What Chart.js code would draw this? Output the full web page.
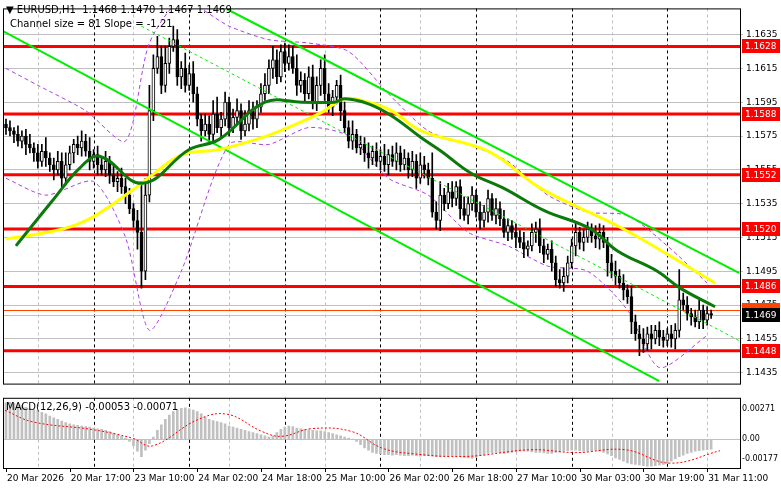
<!DOCTYPE html>
<html>
<head>
<meta charset="utf-8">
<script src="https://cdn.jsdelivr.net/npm/chart.js@4.4.1/dist/chart.umd.min.js"></script>
<style>
  body { margin: 0; background: #fff; width: 781px; height: 489px; overflow: hidden; position: relative; }
  canvas { position: absolute; left: 0; }
  #priceChart { top: 0; }
  #macdChart { top: 392px; }
</style>
</head>
<body>
<canvas id="priceChart" width="781" height="392"></canvas>
<canvas id="macdChart" width="781" height="97"></canvas>
<script>
// prices are stored in pips above BASE (1.1400)
var BASE = 1.14;

// hourly closes, 20 Mar 01:00 .. 31 Mar 13:00
var closes = [180,178,176,172,175,170,168, 165,160,166,162,158,155, 160,150,158,165,170,
  168,172,166,160,164,158,155, 160,152,148,150,145,140,132, 125,118,95, 140,190,215,222,205,218,
  228,232,210,215,205,212, 200,185,178,182,176,188,180, 185,195,180,186,190,178,182,
  190,185,192,200,205,215, 220,210,225,218,222,215,205, 208,200,210,195,205,215,200,192,
  198,205,190,180,172,176,168, 170,165,162,166,160,163,158,164, 160,165,158,162,155,160,150,158,
  155,150,130,125,140,135, 142,138,145,132,128,135,140,130, 125,130,138,128,132,126,118,122,
  118,115,112,108,110,118,120, 110,105,108,100,90,88,92, 100,110,118,112,115,120,116,
  114,118,112,100,95,92,88, 84,80,65,58,55,52, 58,55,60,56,54,58,55,60,
  78,75,70,68,65,72,66,70,69];
var wickUp = [3,4,2,5,3,4,6,3,5,4, 8,3,4,6,5,7,4,3,5,6, 4,8,3,5,4,6,3,5,4,6,
  5,4,3,6,30,10,15,8,12,6, 10,5,8,6,4,9,5,7,4,3, 6,5,8,10,4,6,3,5,7,4,
  8,6,5,4,6,7,5,8,6,4, 5,7,6,8,5,4,6,7,5,5, 8,6,4,3,6,5,4,8,3,5,
  4,6,3,5,4,7,3,5,6,4, 5,3,6,4,7,5,4,15,6,8, 4,5,6,3,4,7,4,5,3,6,
  4,5,3,6,4,5,4,3,5,4, 6,3,5,4,6,4,3,5,4,6, 5,4,4,6,3,5,4,3,6,5,
  4,3,5,6,4,5,3,6,4,5, 6,4,5,3,5,4,3,5,4,18, 4,5,3,4,6,3,4,2];
var wickDn = [4,3,5,3,4,6,3,5,4,3, 5,4,6,3,5,4,3,6,4,5, 3,5,4,6,3,4,5,3,6,4,
  5,3,4,10,10,5,4,6,3,5, 4,6,3,5,7,4,3,5,4,6, 3,5,4,3,6,4,5,3,4,5,
  3,4,6,5,3,4,5,6,4,3, 5,4,3,6,4,5,3,4,5,6, 4,3,5,4,6,3,4,5,3,4,
  5,6,4,3,5,4,6,3,5,4, 3,5,4,6,3,5,4,3,5,6, 4,3,5,4,6,3,5,4,3,5,
  4,6,3,5,4,3,5,4,6,3, 5,4,3,6,4,5,3,5,4,3, 5,4,3,6,4,5,3,4,5,6,
  3,8,4,5,3,6,4,7,4,10, 5,4,6,3,5,4,3,5,6,4, 3,4,5,3,4,5,3,2];

// moving averages [bar index, pips]
var maFast = [[2.5,110],[11.75,137],[18.5,156],[23.5,163],[34.25,147],[46,167],[53.5,173],[65,195],
  [74.25,195],[82.5,195],[85,197],[91,194],[96.75,187],[104.25,174],[109.25,166],[116.75,153],
  [125,144],[135,131],[146.75,120],[153.5,107],[163.5,95],[169.25,85],[178,74]];
var maSlow = [[0,114],[14.25,120],[21.75,127],[31.75,143],[36.75,152],[44.25,164],[53.5,167],
  [64.25,174],[71.75,181],[79.25,189],[85,197],[91,195],[96.75,190],[104.25,178],[121,166],
  [134.25,144],[155,120],[178,88]];

// envelope bands (purple dashed) [bar index, pips]
var bandUpper = [[0,215],[8,205],[20,190],[30,172],[36,230],[44,255],[56,240],[66,232],[76,230],
  [86,225],[96,200],[106,178],[116,170],[126,160],[136,140],[146,130],[156,128],[166,110],[176,88]];
var bandLower = [[0,150],[10,140],[22,148],[30,115],[36,60],[44,95],[56,170],[66,170],[76,180],
  [86,175],[96,150],[106,140],[116,118],[126,110],[136,98],[146,95],[156,72],[164,38],[176,57]];

// regression channel [bar index, pips]
var chanUpper = [[55.5,250],[184,94]];
var chanLower = [[-0.75,237],[164,30]];
var chanMid = [[34,240],[184,54]];

var levels = [1.1628, 1.1588, 1.1552, 1.1520, 1.1486, 1.1448];
var lastPrice = 1.1469;
var askLine = 1.1472;

// MACD histogram (x 1e-5) and signal points
var macdHist = [330,335,325,315,305,290,280, 270,260,245,230,210,195,180,165,
  150,140,130,125,120,115,110,100,95,90, 80,70,55,40,25,10, -20,-60,-110,-160, -100,-40,20,
  80,130,180,220,250,270,280,285, 275,265,250,230, 200,180,170,160,150,140,120,110,100,90,
  80,70,60,50,40,30,20, 30,60,90,110,120,115, 100,95,90,85,80,75,75,70,60,50,40,
  30,20,10,0,-20, -50,-80,-100,-120,-130,-135,-140,
  -140,-145,-140,-145,-150,-150,-145,-150,-155,-150,-150,-155,-160,-160,-155,-150,-150,-155,-160,-165,
  -170,-175,-165,-150,-140,-130,-125,-120,-125,-130,-125,-120,-115,-110,-110,
  -110,-115,-120,-120,-125,-130,-130,-120,-115,-110,-105,-100,-100,-105,-110,-110,-105,-100,-110,
  -120,-135,-150,-170,-185,-200,-215,-225,-230,-235,
  -240,-245,-245,-240,-235,-230,-220,-200,-180,
  -160,-145,-130,-120,-110,-105,-100,-95,-90];
var macdSignal = [[-0.25,262],[6.75,157],[21.75,87],[31.75,9],[36.75,-61],[48,175],[55.5,227],
  [64.25,70],[69.25,26],[76.75,96],[86.75,70],[94.25,-79],[101.75,-131],[115.5,-157],
  [131.75,-96],[143,-122],[155.5,-96],[166.75,-218],[179.25,-105]];

var timeLabels = ['20 Mar 2026','20 Mar 17:00','23 Mar 10:00','24 Mar 02:00','24 Mar 18:00',
  '25 Mar 10:00','26 Mar 02:00','26 Mar 18:00','27 Mar 10:00','30 Mar 03:00','30 Mar 19:00','31 Mar 11:00'];

var X_MIN = -0.75, X_MAX = 184.25;
var FONT = '10px "DejaVu Sans"';
var AXIS_FONT = '9px "DejaVu Sans"';

function px(p) { return +(BASE + p / 10000).toFixed(5); }
function pts(list, scale) { return list.map(function (d) { return { x: d[0], y: scale(d[1]) }; }); }

var wicks = [], bodies = [], bodyFill = [];
closes.forEach(function (c, i) {
    var o = i === 0 ? 182 : closes[i - 1];
    var hi = Math.max(o, c) + wickUp[i], lo = Math.min(o, c) - wickDn[i];
    wicks.push({ x: i, y: [px(lo), px(hi)] });
    var a = o, b = c;
    if (a === b) b = a + 0.3;
    bodies.push({ x: i, y: [px(a), px(b)] });
    bodyFill.push(c >= o ? '#ffffff' : '#000000');
});

function rightAxisFit(scale) { scale.width = 41; }

// grid: gray dashed verticals + black dashed day separators
var gridPlugin = {
    id: 'grid',
    beforeDatasetsDraw: function (chart) {
        var ctx = chart.ctx, a = chart.chartArea, xs = chart.scales.x;
        ctx.save();
        ctx.lineWidth = 1;
        ctx.setLineDash([3, 3]);
        for (var k = 0; k < 8; k++) {
            var g = xs.getPixelForValue(8 + 24 * k), d = xs.getPixelForValue(22 + 24 * k);
            ctx.strokeStyle = '#c0c0c0';
            ctx.beginPath(); ctx.moveTo(Math.round(g) + 0.5, a.top); ctx.lineTo(Math.round(g) + 0.5, a.bottom); ctx.stroke();
            if (d < a.right) {
                ctx.strokeStyle = '#000';
                ctx.beginPath(); ctx.moveTo(Math.round(d) + 0.5, a.top); ctx.lineTo(Math.round(d) + 0.5, a.bottom); ctx.stroke();
            }
        }
        ctx.restore();
    },
    afterDraw: function (chart) {
        var ctx = chart.ctx, a = chart.chartArea;
        ctx.save();
        ctx.strokeStyle = '#000'; ctx.lineWidth = 1;
        ctx.strokeRect(a.left + 0.5, a.top + 0.5, a.right - a.left, a.bottom - a.top);
        ctx.restore();
    }
};

var levelPlugin = {
    id: 'levels',
    beforeDatasetsDraw: function (chart) {
        var ctx = chart.ctx, a = chart.chartArea, ys = chart.scales.y;
        ctx.save();
        levels.forEach(function (v) {
            var y = ys.getPixelForValue(v);
            ctx.strokeStyle = '#ff0000'; ctx.lineWidth = 3;
            ctx.beginPath(); ctx.moveTo(a.left, y); ctx.lineTo(a.right, y); ctx.stroke();
        });
        var ya = Math.round(ys.getPixelForValue(askLine)) + 0.5;
        ctx.strokeStyle = '#ff4500'; ctx.lineWidth = 1;
        ctx.beginPath(); ctx.moveTo(a.left, ya); ctx.lineTo(a.right, ya); ctx.stroke();
        var yb = Math.round(ys.getPixelForValue(lastPrice)) + 0.5;
        ctx.strokeStyle = '#c0c0c0';
        ctx.beginPath(); ctx.moveTo(a.left, yb); ctx.lineTo(a.right, yb); ctx.stroke();
        ctx.restore();
    },
    afterDraw: function (chart) {
        var ctx = chart.ctx, a = chart.chartArea, ys = chart.scales.y;
        ctx.save();
        ctx.font = AXIS_FONT;
        ctx.textBaseline = 'middle';
        function box(v, bg) {
            var y = Math.round(ys.getPixelForValue(v));
            ctx.fillStyle = bg;
            ctx.fillRect(a.right + 2, y - 7, 38, 14);
            ctx.fillStyle = '#fff';
            ctx.fillText(v.toFixed(4), a.right + 5, y + 1);
        }
        var ya = Math.round(ys.getPixelForValue(askLine));
        ctx.fillStyle = '#ff4500';
        ctx.fillRect(a.right + 2, ya - 7, 38, 8);
        levels.forEach(function (v) { box(v, '#ff0000'); });
        box(lastPrice, '#000000');
        ctx.font = FONT;
        ctx.fillStyle = '#000';
        ctx.textBaseline = 'alphabetic';
        ctx.fillText('\u25BC EURUSD,H1  1.1468 1.1470 1.1467 1.1469', 6, 13);
        ctx.fillText('Channel size = 81 Slope = -1.21', 10, 27);
        ctx.restore();
    }
};

var bandStyle = { type: 'line', borderColor: '#b040e0', borderWidth: 1, borderDash: [4, 3], pointRadius: 0, tension: 0.25, order: 6 };

new Chart(document.getElementById('priceChart'), {
    type: 'bar',
    data: {
        datasets: [
            { type: 'line', data: pts(maFast, px), borderColor: '#0b7a0b', borderWidth: 3, pointRadius: 0, tension: 0.4, order: 1 },
            { type: 'line', data: pts(maSlow, px), borderColor: '#ffff00', borderWidth: 3, pointRadius: 0, tension: 0.4, order: 2 },
            { type: 'line', data: pts(chanUpper, px), borderColor: '#00ee00', borderWidth: 2, pointRadius: 0, order: 3 },
            { type: 'line', data: pts(chanLower, px), borderColor: '#00ee00', borderWidth: 2, pointRadius: 0, order: 3 },
            { type: 'line', data: pts(chanMid, px), borderColor: '#00ee00', borderWidth: 1, borderDash: [3, 3], pointRadius: 0, order: 3 },
            { data: bodies, backgroundColor: bodyFill, borderColor: '#000', borderWidth: 1, borderSkipped: false, barThickness: 3, order: 4, grouped: false },
            { data: wicks, backgroundColor: '#000', borderWidth: 0, barThickness: 1, order: 5, grouped: false },
            Object.assign({ data: pts(bandUpper, px) }, bandStyle),
            Object.assign({ data: pts(bandLower, px) }, bandStyle)
        ]
    },
    options: {
        responsive: false, animation: false, devicePixelRatio: 1,
        layout: { padding: { left: 3, top: 2, bottom: 2, right: 0 } },
        plugins: { legend: { display: false }, tooltip: { enabled: false } },
        scales: {
            x: { type: 'linear', min: X_MIN, max: X_MAX, display: false, offset: false },
            y: {
                position: 'right', min: 1.14285, max: 1.16505,
                afterFit: rightAxisFit,
                afterBuildTicks: function (s) {
                    var t = [];
                    for (var v = 1.1435; v < 1.1640; v += 0.002) t.push({ value: +v.toFixed(4) });
                    s.ticks = t;
                },
                grid: { color: '#c0c0c0', tickLength: 3 },
                border: { display: false },
                ticks: { color: '#000', font: { family: 'DejaVu Sans', size: 9 }, padding: 3, callback: function (v) { return v.toFixed(4); } }
            }
        }
    },
    plugins: [gridPlugin, levelPlugin]
});

var macdPlugin = {
    id: 'macdText',
    afterDraw: function (chart) {
        var ctx = chart.ctx, a = chart.chartArea, xs = chart.scales.x;
        ctx.save();
        ctx.font = FONT; ctx.fillStyle = '#000';
        ctx.fillText('MACD(12,26,9) -0.00053 -0.00071', 6, a.top + 12);
        ctx.font = AXIS_FONT;
        ctx.textBaseline = 'top';
        timeLabels.forEach(function (t, k) {
            var x = xs.getPixelForValue(16 * k);
            ctx.fillText(t, x + 1, a.bottom + 6);
            ctx.fillRect(Math.round(x), a.bottom, 1, 4);
        });
        ctx.restore();
    }
};

new Chart(document.getElementById('macdChart'), {
    type: 'bar',
    data: {
        datasets: [
            { type: 'line', data: pts(macdSignal, function (v) { return v / 100000; }), borderColor: '#ff0000', borderWidth: 1, borderDash: [2, 2], pointRadius: 0, tension: 0.4, order: 1 },
            { data: macdHist.map(function (v, i) { return { x: i, y: v / 100000 }; }), backgroundColor: '#c0c0c0', barThickness: 2, order: 2 }
        ]
    },
    options: {
        responsive: false, animation: false, devicePixelRatio: 1,
        layout: { padding: { left: 3, top: 3, bottom: 21, right: 0 } },
        plugins: { legend: { display: false }, tooltip: { enabled: false } },
        scales: {
            x: { type: 'linear', min: X_MIN, max: X_MAX, display: false, offset: false },
            y: {
                position: 'right', min: -0.00262, max: 0.00376,
                afterFit: rightAxisFit,
                afterBuildTicks: function (s) { s.ticks = [{ value: 0.00271 }, { value: 0 }, { value: -0.00177 }]; },
                grid: { color: function (c) { return c.tick && c.tick.value === 0 ? '#c0c0c0' : 'transparent'; }, tickLength: 1 },
                border: { display: false },
                ticks: { color: '#000', font: { family: 'DejaVu Sans', size: 8 }, padding: 1,
                    callback: function (v) { return v === 0 ? '0.00' : v.toFixed(5); } }
            }
        }
    },
    plugins: [gridPlugin, macdPlugin]
});
</script>
</body>
</html>
